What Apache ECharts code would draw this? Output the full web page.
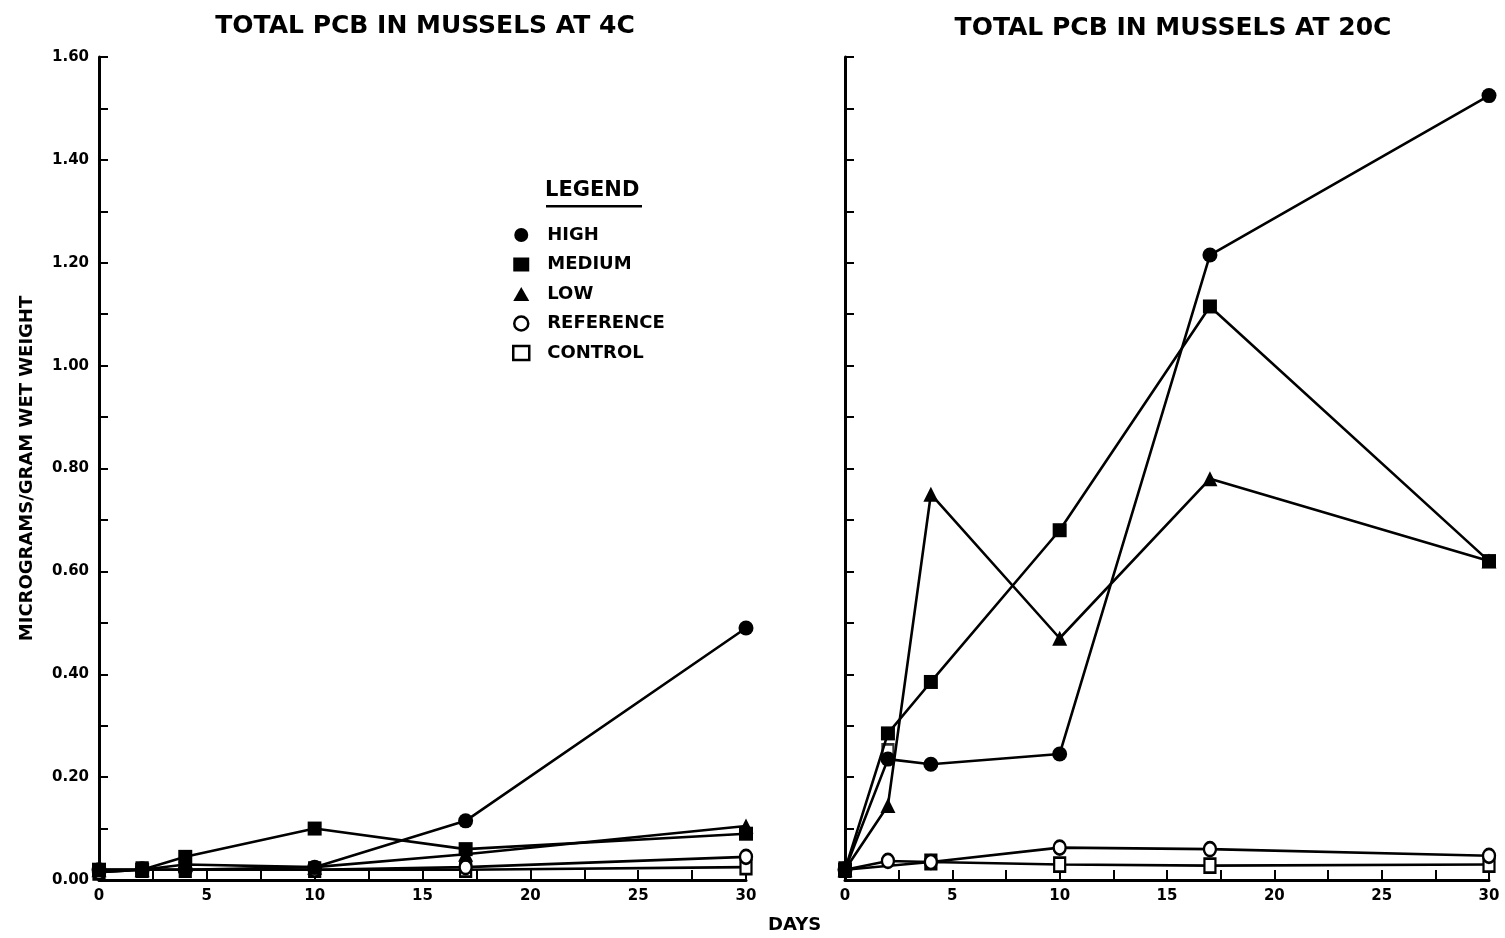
<!DOCTYPE html>
<html>
<head>
<meta charset="utf-8">
<script src="https://cdn.jsdelivr.net/npm/echarts@6/dist/echarts.min.js"></script>
<style>
html,body{margin:0;padding:0;background:#fff;}
#chart{width:1505px;height:938px;}
</style>
</head>
<body>
<div id="chart"></div>
<script>
// ---- data ----
const days = [0, 2, 4, 10, 17, 30];
const seriesNames = ['HIGH', 'MEDIUM', 'LOW', 'REFERENCE', 'CONTROL'];
// 4C panel
const high4 = [0.02, 0.02, 0.02, 0.025, 0.115, 0.49];
const medium4 = [0.02, 0.02, 0.045, 0.10, 0.06, 0.09];
const low4 = [0.02, 0.02, 0.03, 0.025, 0.05, 0.105];
const reference4 = [0.015, 0.02, 0.02, 0.02, 0.025, 0.045];
const control4 = [0.015, 0.02, 0.02, 0.02, 0.02, 0.025];
// 20C panel
const high20 = [0.02, 0.235, 0.225, 0.245, 1.215, 1.525];
const medium20 = [0.02, 0.285, 0.385, 0.68, 1.115, 0.62];
const low20 = [0.02, 0.145, 0.75, 0.47, 0.78, 0.62];
const reference20 = [0.02, 0.037, 0.035, 0.063, 0.06, 0.047];
const control20 = [0.02, 0.25, 0.035, 0.03, 0.028, 0.03];
const yTicks = ['0.00', '0.20', '0.40', '0.60', '0.80', '1.00', '1.20', '1.40', '1.60'];
const titles = ['TOTAL PCB IN MUSSELS AT 4C', 'TOTAL PCB IN MUSSELS AT 20C'];

const FONT = '"DejaVu Sans", Verdana, sans-serif';
const styles = {
  HIGH: {symbol: 'circle', size: 15, fill: '#000', z: 4},
  MEDIUM: {symbol: 'rect', size: 14, fill: '#000', z: 4},
  LOW: {symbol: 'triangle', size: 15, fill: '#000', z: 4},
  REFERENCE: {symbol: 'circle', size: [12, 14], fill: '#fff', z: 3},
  CONTROL: {symbol: 'rect', size: [11, 14], fill: '#fff', z: 2}
};

function mk(name, vals, gi, skipLineIdx) {
  const st = styles[name];
  const out = [];
  const pts = days.map((d, i) => [d, (skipLineIdx === i) ? null : vals[i]]);
  out.push({
    type: 'line', name: name, xAxisIndex: gi, yAxisIndex: gi,
    data: pts, connectNulls: true,
    symbol: st.symbol, symbolSize: st.size, showAllSymbol: true,
    lineStyle: {color: '#000', width: 2.6},
    itemStyle: {color: st.fill, borderColor: '#000', borderWidth: st.fill === '#fff' ? 2.5 : 0},
    z: st.z,
    silent: true, animation: false
  });
  if (skipLineIdx !== undefined) {
    out.push({
      type: 'scatter', name: name, xAxisIndex: gi, yAxisIndex: gi,
      data: [[days[skipLineIdx], vals[skipLineIdx]]],
      symbol: st.symbol, symbolSize: st.size,
      itemStyle: {color: st.fill, borderColor: '#000', borderWidth: 2.5},
      z: 3, silent: true, animation: false
    });
  }
  return out;
}

const series = [].concat(
  mk('HIGH', high4, 0), mk('MEDIUM', medium4, 0), mk('LOW', low4, 0),
  mk('REFERENCE', reference4, 0), mk('CONTROL', control4, 0),
  mk('HIGH', high20, 1), mk('MEDIUM', medium20, 1), mk('LOW', low20, 1),
  mk('REFERENCE', reference20, 1), mk('CONTROL', control20, 1, 1)
);

function xAxis(gi) {
  return {
    type: 'value', gridIndex: gi, min: 0, max: 30, interval: 2.5,
    axisLine: {show: true, lineStyle: {color: '#000', width: 3}},
    axisTick: {show: true, inside: true, length: 10, lineStyle: {color: '#000', width: 2}},
    splitLine: {show: false},
    axisLabel: {
      color: '#000', fontFamily: FONT, fontWeight: 'bold', fontSize: 15, margin: 9,
      formatter: v => (Math.abs(v % 5) < 1e-6 ? String(v) : '')
    }
  };
}
function yAxis(gi) {
  return {
    type: 'value', gridIndex: gi, min: 0, max: 1.6, interval: 0.1,
    axisLine: {show: true, lineStyle: {color: '#000', width: 3}},
    axisTick: {show: true, inside: true, length: 9, lineStyle: {color: '#000', width: 2}},
    splitLine: {show: false},
    axisLabel: {
      show: gi === 0,
      color: '#000', fontFamily: FONT, fontWeight: 'bold', fontSize: 15, margin: 10,
      formatter: v => {
        const k = Math.round(v * 10);
        return k % 2 === 0 ? yTicks[k / 2] : '';
      }
    },
    name: gi === 0 ? 'MICROGRAMS/GRAM WET WEIGHT' : '',
    nameLocation: 'middle', nameRotate: 90, nameGap: 63,
    nameTextStyle: {color: '#000', fontFamily: FONT, fontWeight: 'bold', fontSize: 18}
  };
}

const legendItems = seriesNames.map(n => ({
  name: n,
  icon: styles[n].symbol,
  itemStyle: {color: styles[n].fill, borderColor: '#000', borderWidth: styles[n].fill === '#fff' ? 2.5 : 0}
}));

const option = {
  backgroundColor: '#fff',
  animation: false,
  title: [
    {text: titles[0], left: 420, top: 9, textAlign: 'center',
     textStyle: {color: '#000', fontFamily: FONT, fontWeight: 'bold', fontSize: 25}},
    {text: titles[1], left: 1168, top: 11, textAlign: 'center',
     textStyle: {color: '#000', fontFamily: FONT, fontWeight: 'bold', fontSize: 25}}
  ],
  grid: [
    {left: 99, top: 57, width: 647, height: 823},
    {left: 845, top: 57, width: 644, height: 823}
  ],
  xAxis: [xAxis(0), xAxis(1)],
  yAxis: [yAxis(0), yAxis(1)],
  legend: {
    orient: 'vertical', left: 507, top: 221,
    itemWidth: 16, itemHeight: 14, itemGap: 11.5,
    selectedMode: false,
    textStyle: {color: '#000', fontFamily: FONT, fontWeight: 'bold', fontSize: 18, lineHeight: 16, padding: [0, 0, 0, 13]},
    data: legendItems
  },
  graphic: [
    {type: 'text', left: 545, top: 180,
     style: {text: 'LEGEND', fill: '#000', font: 'bold 21px ' + FONT}},
    {type: 'rect', left: 546, top: 205, shape: {width: 96, height: 2.5}, style: {fill: '#000'}},
    {type: 'text', left: 768, top: 916,
     style: {text: 'DAYS', fill: '#000', font: 'bold 18px ' + FONT}}
  ],
  series: series
};

const chart = echarts.init(document.getElementById('chart'), null, {renderer: 'canvas'});
chart.setOption(option);
</script>
</body>
</html>
